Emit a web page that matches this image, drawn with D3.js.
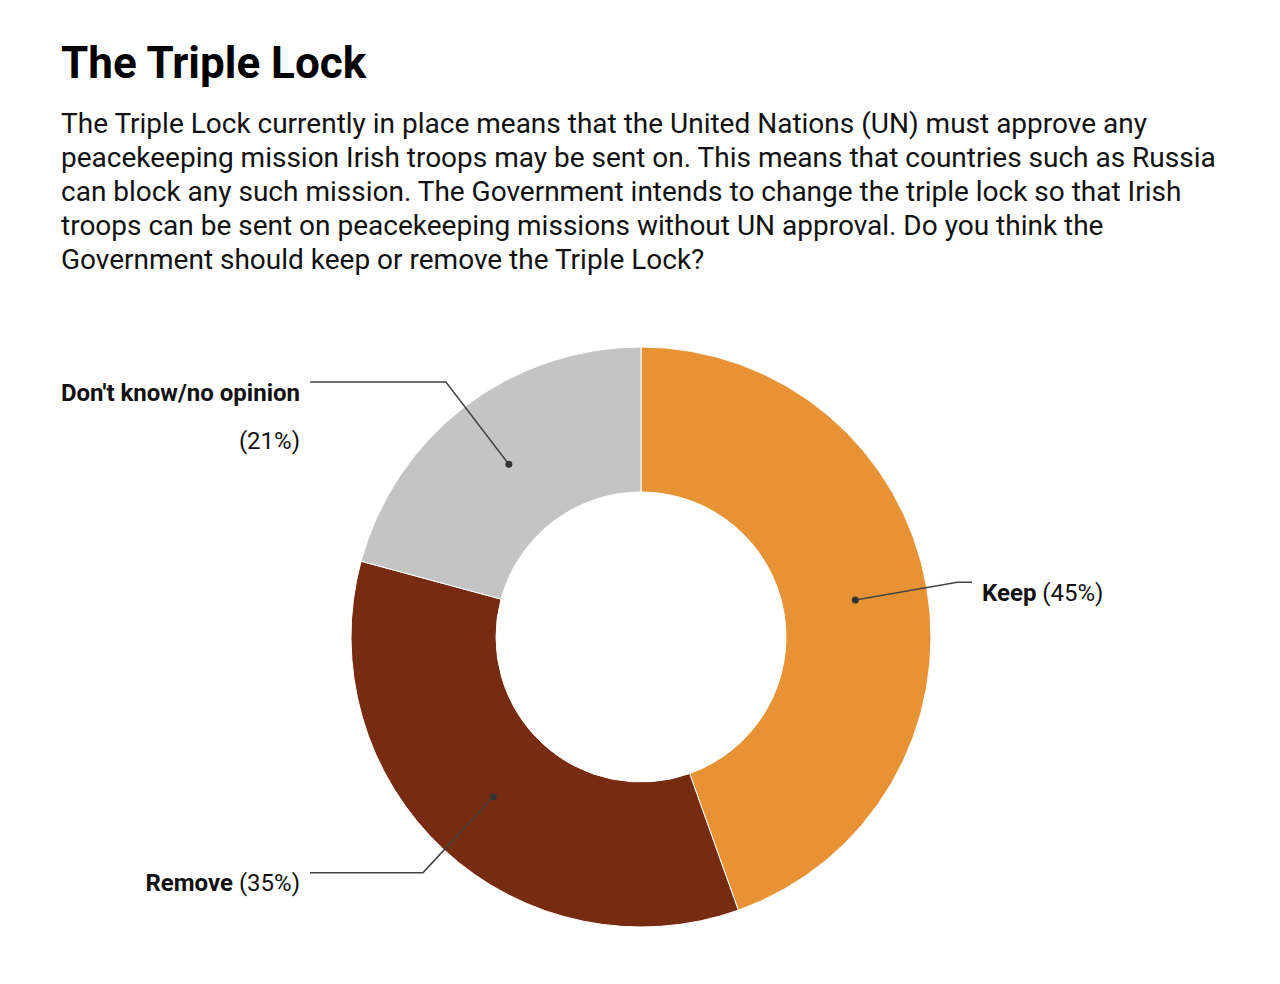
<!DOCTYPE html>
<html>
<head>
<meta charset="utf-8">
<script src="https://cdn.jsdelivr.net/npm/d3@7"></script>
<style>
  body { margin: 0; background: #fff; font-family: Roboto, sans-serif; }
</style>
</head>
<body>
<script>
// data
const categories = ["Keep", "Remove", "Don't know/no opinion"]
const values = [45, 35, 21]
const colors = ["#E89236", "#772C11", "#C4C4C4"]
const title = "The Triple Lock"
const subtitleLines = [
  "The Triple Lock currently in place means that the United Nations (UN) must approve any",
  "peacekeeping mission Irish troops may be sent on. This means that countries such as Russia",
  "can block any such mission. The Government intends to change the triple lock so that Irish",
  "troops can be sent on peacekeeping missions without UN approval. Do you think the",
  "Government should keep or remove the Triple Lock?"
]

const w = 1280
const h = 984
const cx = 641
const cy = 637
const outerR = 290
const innerR = 145

const svg = d3.select("body")
              .append("svg")
              .attr("width", w)
              .attr("height", h)

svg.append("text")
   .attr("x", 61)
   .attr("y", 78)
   .attr("font-size", 44)
   .attr("font-weight", "bold")
   .attr("fill", "#000")
   .text(title)

svg.append("g")
   .selectAll("text")
   .data(subtitleLines)
   .enter()
   .append("text")
   .attr("x", 61)
   .attr("y", (d, i) => 133 + i * 34)
   .attr("font-size", 28)
   .attr("fill", "#111")
   .text(d => d)

const data = categories.map((c, i) => ({ name: c, value: values[i], color: colors[i] }))

const pie = d3.pie()
              .value(d => d.value)
              .sort(null)

const arc = d3.arc()
              .innerRadius(innerR)
              .outerRadius(outerR)

const elbowArc = d3.arc()
                   .innerRadius(321)
                   .outerRadius(321)

const arcs = pie(data)

const g = svg.append("g")
             .attr("transform", "translate(" + cx + "," + cy + ")")

g.selectAll("path")
 .data(arcs)
 .enter()
 .append("path")
 .attr("d", arc)
 .attr("fill", d => d.data.color)
 .attr("stroke", "#fff")
 .attr("stroke-width", 1)

// leader lines
const labelLeftX = 300 - cx
const labelRightX = 982 - cx

arcs.forEach((d) => {
  const c = arc.centroid(d)
  const e = elbowArc.centroid(d)
  const right = e[0] > 0
  const endX = right ? labelRightX - 10 : labelLeftX + 10
  g.append("polyline")
   .attr("points", [c, e, [endX, e[1]]].map(p => p.join(",")).join(" "))
   .attr("fill", "none")
   .attr("stroke", "#444")
   .attr("stroke-width", 1.5)
  g.append("circle")
   .attr("cx", c[0])
   .attr("cy", c[1])
   .attr("r", 3.5)
   .attr("fill", "#333")

  const lx = right ? labelRightX : labelLeftX
  const anchor = right ? "start" : "end"
  const pct = "(" + d.data.value + "%)"
  if (d.data.name.length > 10) {
    g.append("text")
     .attr("x", lx)
     .attr("y", e[1] + 18.5)
     .attr("text-anchor", anchor)
     .attr("font-size", 24)
     .attr("font-weight", "bold")
     .attr("fill", "#111")
     .text(d.data.name)
    g.append("text")
     .attr("x", lx)
     .attr("y", e[1] + 67)
     .attr("text-anchor", anchor)
     .attr("font-size", 24)
     .attr("fill", "#111")
     .text(pct)
  } else {
    const t = g.append("text")
               .attr("x", lx)
               .attr("y", e[1] + 18.5)
               .attr("text-anchor", anchor)
               .attr("font-size", 24)
               .attr("fill", "#111")
    t.append("tspan").attr("font-weight", "bold").text(d.data.name)
    t.append("tspan").text(" " + pct)
  }
})
</script>
</body>
</html>
